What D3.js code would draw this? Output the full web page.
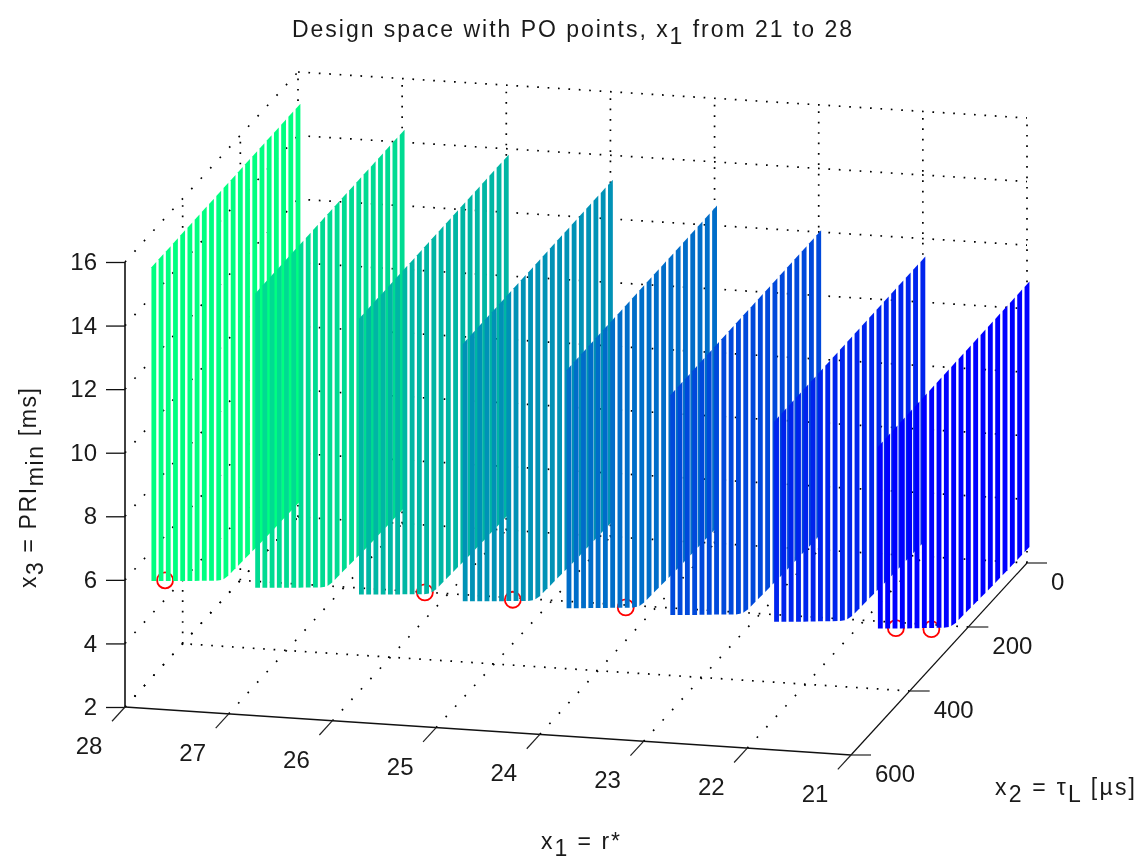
<!DOCTYPE html>
<html>
<head>
<meta charset="utf-8">
<script src="https://cdn.jsdelivr.net/npm/d3@7"></script>
<style>
html,body{margin:0;padding:0;background:#fff;}
svg{display:block;filter:blur(0.3px);}
text{font-family:"Liberation Sans",Arial,sans-serif;fill:#1a1a1a;}
</style>
</head>
<body>
<svg id="chart" width="1141" height="864"></svg>
<script>
// ---- data ----
const x1Ticks = [28, 27, 26, 25, 24, 23, 22, 21];
const x2Ticks = [0, 200, 400, 600];
const x3Ticks = [2, 4, 6, 8, 10, 12, 14, 16];
const panelX1 = [28, 27, 26, 25, 24, 23, 22, 21];
const panelTop = [14.92, 14.31, 13.73, 13.15, 12.54, 11.97, 11.35, 10.77];
const stemX2 = [0, 25, 50, 75, 100, 125, 150, 175, 200, 225, 250, 275, 300, 325, 350, 375, 400, 425, 450, 475, 500];
const stemBottom = [2.42, 2.43, 2.44, 2.45, 2.46, 2.47, 2.49, 2.51, 2.53, 2.55, 2.56, 2.73, 2.98, 3.23, 3.48, 3.72, 3.97, 4.22, 4.47, 4.72, 4.97];
const poX1 = [28, 26, 25, 24, 21, 21];
const poX2 = [461, 281, 336, 305, 447, 326];
const poX3 = [4.6, 2.85, 3.38, 3.04, 4.45, 3.2];
const titleParts = ["Design space with PO points, x", "1", " from 21 to 28"];

// ---- scales and projection ----
const svg = d3.select("#chart");
const frontX = d3.scaleLinear().domain([28, 21]).range([125, 851]);
const backX  = d3.scaleLinear().domain([28, 21]).range([298, 1027]);
const frontY = d3.scaleLinear().domain([28, 21]).range([707, 755]);
const backY  = d3.scaleLinear().domain([28, 21]).range([517, 563]);
const depth  = d3.scaleLinear().domain([600, 0]).range([0, 1]);
const z      = d3.scaleLinear().domain([2, 16]).range([707, 262]);
const colour = d3.scaleLinear().domain([21, 28]).range(["#0000ff", "#00ff80"]);
const bottomAt = d3.scaleLinear().domain(stemX2).range(stemBottom);
const halfStem = 8.3; // half a stem's thickness, in x2 units

function project(a, b, c) {
  const t = depth(b);
  return [
    d3.interpolateNumber(frontX(a), backX(a))(t),
    d3.interpolateNumber(frontY(a), backY(a))(t) + z(c) - z(2)
  ];
}
function seg(g, p, q, attrs) {
  const l = g.append("line").attr("x1", p[0]).attr("y1", p[1]).attr("x2", q[0]).attr("y2", q[1]);
  Object.entries(attrs).forEach(([k, v]) => l.attr(k, v));
  return l;
}
function dotted(g, p, q) {
  const dx = q[0] - p[0], dy = q[1] - p[1];
  const len = Math.hypot(dx, dy), period = 10.4 * len / Math.max(Math.abs(dx), Math.abs(dy));
  seg(g, p, q, {stroke: "#000", "stroke-width": 1.7, "stroke-dasharray": `1.7 ${period - 1.7}`});
}

// ---- grid ----
const grid = svg.append("g");
const [x1Lo, x1Hi] = d3.extent(x1Ticks), [x3Lo, x3Hi] = d3.extent(x3Ticks);
x1Ticks.forEach(a => {
  dotted(grid, project(a, 0, x3Lo), project(a, 0, x3Hi));
  if (a !== x1Lo) dotted(grid, project(a, 600, x3Lo), project(a, 0, x3Lo));
});
x3Ticks.forEach(c => {
  dotted(grid, project(x1Hi, 0, c), project(x1Lo, 0, c));
  dotted(grid, project(x1Hi, 600, c), project(x1Hi, 0, c));
});
x2Ticks.filter(b => b > 0 && b < 600).forEach(b => {
  dotted(grid, project(x1Hi, b, x3Lo), project(x1Hi, b, x3Hi));
  dotted(grid, project(x1Lo, b, x3Lo), project(x1Hi, b, x3Lo));
});

// ---- panels of stems, back to front, each over its own PO circles ----
const marks = svg.append("g");
const stemLine = d3.line();
panelX1.forEach((a, i) => {
  const g = marks.append("g");
  poX1.forEach((pa, k) => {
    if (pa !== a) return;
    const p = project(pa, poX2[k], poX3[k]);
    g.append("circle").attr("cx", p[0]).attr("cy", p[1]).attr("r", 8)
      .attr("fill", "none").attr("stroke", "#ff0000").attr("stroke-width", 1.8);
  });
  g.selectAll("path").data(stemX2).join("path")
    .attr("d", b => {
      const lo = b + halfStem, hi = b - halfStem;
      return stemLine([
        project(a, lo, bottomAt(lo)), project(a, lo, panelTop[i]),
        project(a, hi, panelTop[i]), project(a, hi, bottomAt(Math.max(hi, 0)))
      ]) + "Z";
    })
    .attr("fill", colour(a));
});

// ---- axes ----
const axisAttrs = {stroke: "#111", "stroke-width": 1.5};
const x3Axis = d3.axisLeft(z).tickValues(x3Ticks).tickSize(19).tickPadding(9);
const ax3 = svg.append("g").attr("transform", `translate(${frontX(28)},0)`).call(x3Axis);
ax3.select(".domain").attr("d", `M0,${z(16)}V${z(2)}`).attr("stroke", "#111").attr("stroke-width", 1.6);
ax3.selectAll(".tick line").attr("stroke", "#111").attr("stroke-width", 1.3);
ax3.selectAll("text").attr("font-size", 24).attr("font-family", '"Liberation Sans",Arial,sans-serif').attr("fill", "#1a1a1a");

const axG = svg.append("g");
seg(axG, project(28, 600, 2), project(21, 600, 2), axisAttrs);
seg(axG, project(21, 600, 2), project(21, 0, 2), {stroke: "#111", "stroke-width": 1.2});
x1Ticks.forEach(a => {
  const p = project(a, 600, 2), q = project(a, 645, 2);
  seg(axG, p, q, {stroke: "#222", "stroke-width": 1.2});
  axG.append("text").attr("x", p[0] - 36).attr("y", p[1] + 47)
    .attr("text-anchor", "middle").attr("font-size", 24).text(a);
});
x2Ticks.forEach(b => {
  const p = project(21, b, 2);
  seg(axG, p, [p[0] + 20, p[1]], {stroke: "#222", "stroke-width": 1.2});
  axG.append("text").attr("x", p[0] + 24).attr("y", p[1] + 27)
    .attr("font-size", 24).text(b);
});

// ---- text ----
function richSub(parent, parts, size, totalLength) {
  const t = parent.append("text").attr("font-size", size).attr("xml:space", "preserve")
    .attr("textLength", totalLength);
  let prevSub = false;
  parts.forEach(([s, sub]) => {
    const ts = t.append("tspan").text(s);
    if (sub) ts.attr("dy", size * 0.3);
    else if (prevSub) ts.attr("dy", -size * 0.3);
    prevSub = !!sub;
  });
  return t;
}
richSub(svg, [[titleParts[0]], [titleParts[1], true], [titleParts[2]]], 23, 560)
  .attr("x", 292).attr("y", 37);
richSub(svg, [["x"], ["1", true], [" = r*"]], 23, 79).attr("x", 541).attr("y", 849);
richSub(svg, [["x"], ["2", true], [" = τ"], ["L", true], [" [µs]"]], 23, 140).attr("x", 995).attr("y", 795);
richSub(svg, [["x"], ["3", true], [" = PRI"], ["min", true], [" [ms]"]], 23, 200)
  .attr("transform", "translate(36,588) rotate(-90)");
</script>
</body>
</html>
